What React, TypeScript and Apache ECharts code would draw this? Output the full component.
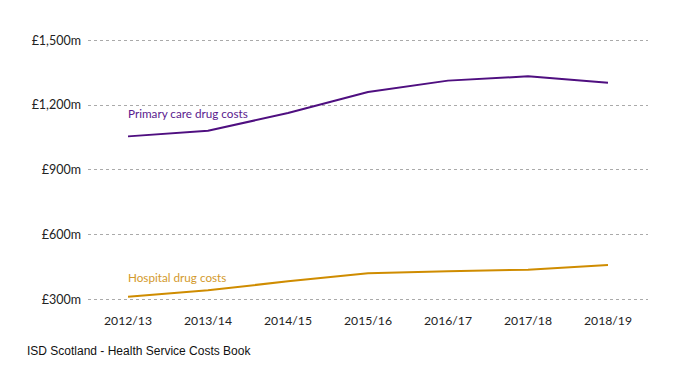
import React, { useEffect, useRef } from "react";
import * as echarts from "echarts";

const categories = ["2012/13", "2013/14", "2014/15", "2015/16", "2016/17", "2017/18", "2018/19"];
const primaryCare = [1054, 1080, 1162, 1259, 1312, 1332, 1302];
const hospital = [312, 342, 383, 420, 430, 437, 459];
const yTicks = [300, 600, 900, 1200, 1500];
const primaryName = "Primary care drug costs";
const hospitalName = "Hospital drug costs";
const sourceText = "ISD Scotland - Health Service Costs Book";

const FONT = "Lato, 'Noto Sans', sans-serif";
const PURPLE = "#4f0f80";
const GOLD = "#cf8c00";

function withLabel(values: number[], text: string, color: string, distance: number) {
  return values.map((v, i) =>
    i === 0
      ? {
          value: v,
          label: {
            show: true,
            formatter: text,
            position: "top",
            align: "left",
            distance,
            color,
            fontFamily: FONT,
            fontSize: 11.7,
          },
        }
      : v
  );
}

export default function App() {
  const ref = useRef<HTMLDivElement>(null);
  useEffect(() => {
    if (!ref.current) return;
    const chart = echarts.init(ref.current, null, { renderer: "svg" });
    const fmt = (v: number) => "£" + v.toLocaleString("en-GB") + "m";
    chart.setOption({
      animation: false,
      backgroundColor: "#ffffff",
      grid: { left: 88, right: 43, top: 40, bottom: 72.7 },
      xAxis: {
        type: "category",
        data: categories,
        boundaryGap: true,
        axisLine: { show: false },
        axisTick: { show: false },
        axisLabel: { color: "#222", fontFamily: FONT, fontSize: 12.2, margin: 15 },
        splitLine: { show: false },
      },
      yAxis: {
        type: "value",
        min: yTicks[0],
        max: yTicks[yTicks.length - 1],
        interval: 300,
        axisLine: { show: false },
        axisTick: { show: false },
        axisLabel: { color: "#222", fontFamily: FONT, fontSize: 12.5, margin: 7, formatter: fmt },
        splitLine: { show: true, lineStyle: { color: "#aaaaaa", type: [3, 3], width: 1 } },
      },
      series: [
        {
          name: primaryName,
          type: "line",
          data: withLabel(primaryCare, primaryName, "#5a1a8e", 17),
          symbol: "circle",
          symbolSize: 0,
          showSymbol: true,
          lineStyle: { color: PURPLE, width: 2 },
          itemStyle: { color: PURPLE },
        },
        {
          name: hospitalName,
          type: "line",
          data: withLabel(hospital, hospitalName, "#d39a2c", 14),
          symbol: "circle",
          symbolSize: 0,
          showSymbol: true,
          lineStyle: { color: GOLD, width: 2 },
          itemStyle: { color: GOLD },
        },
      ],
      graphic: [
        {
          type: "text",
          left: 27,
          top: 345,
          style: {
            text: sourceText,
            fill: "#111",
            font: "12px 'Liberation Sans', Arial, sans-serif",
          },
        },
      ],
    });
    return () => chart.dispose();
  }, []);
  return <div ref={ref} style={{ width: 691, height: 372, position: "absolute", left: 0, top: 0 }} />;
}
